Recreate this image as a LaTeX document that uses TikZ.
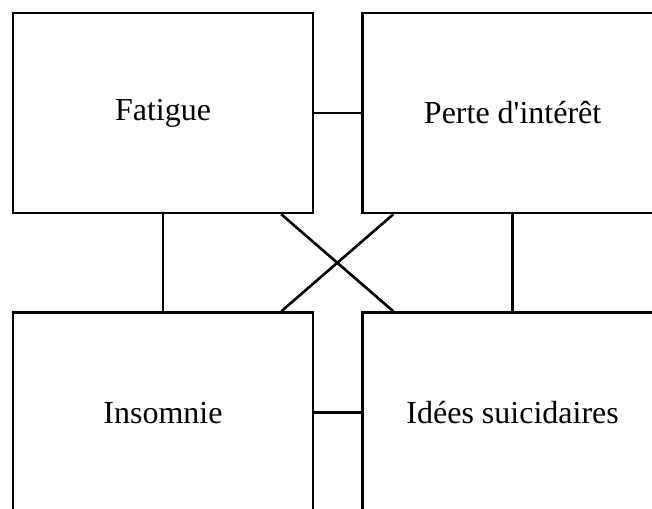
\documentclass[tikz,border=0pt]{standalone}
\usepackage{fontspec}
\setmainfont{Liberation Serif}[Ligatures=TeXOff]
\usetikzlibrary{positioning,calc}
\tikzset{
  symp/.style={draw=black, line width=2.6pt, minimum width=300pt, minimum height=200pt, align=center, font=\fontsize{32}{38}\selectfont},
  lnk/.style={line width=2.6pt, color=black},
}
\begin{document}
\begin{tikzpicture}[x=1pt,y=1pt]
  \useasboundingbox (0,0) rectangle (652,508);
  \node[symp] (fat) at (163,395) {Fatigue};
  \node[symp, right=47pt of fat] (perte) {Perte d'intérêt};
  \node[symp, below=97pt of fat] (insom) {Insomnie};
  \node[symp, below=97pt of perte] (idees) {Idées suicidaires};
  \draw[lnk] (fat) -- (perte); \draw[lnk] (insom) -- (idees);
  \draw[lnk] (fat) -- (insom); \draw[lnk] (perte) -- (idees);
  \draw[lnk] ($(fat.south east)+(-33,0)$) -- ($(idees.north west)+(32,0)$);
  \draw[lnk] ($(perte.south west)+(32,0)$) -- ($(insom.north east)+(-33,0)$);
\end{tikzpicture}
\end{document}
